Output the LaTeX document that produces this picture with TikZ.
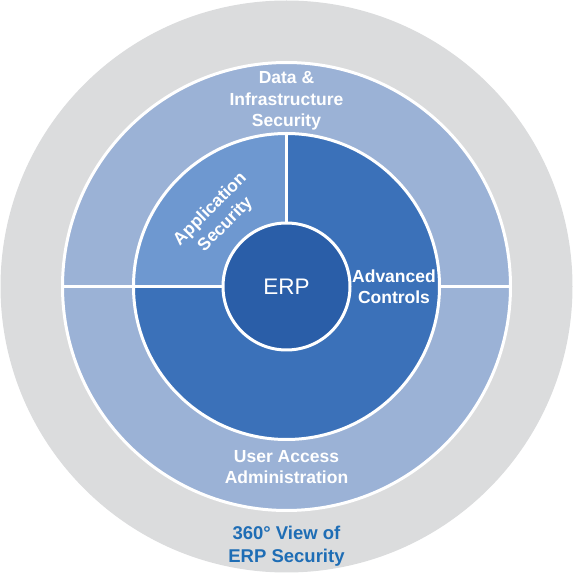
\documentclass[tikz,border=0pt]{standalone}
\usepackage{fontspec}
\setmainfont{Liberation Sans}
\definecolor{grayring}{HTML}{DBDCDD}
\definecolor{outerblue}{HTML}{9BB2D6}
\definecolor{appblue}{HTML}{6E98D0}
\definecolor{darkblue}{HTML}{3B71B9}
\definecolor{erpblue}{HTML}{2A5EA8}
\definecolor{textblue}{HTML}{1E6DB5}
\begin{document}
\begin{tikzpicture}[x=1pt,y=1pt,
  sep/.style={white,line width=3pt},
  lbl/.style={text=white,font=\fontsize{17.5}{21.5}\selectfont\bfseries,align=center,inner sep=0pt},
  bluelbl/.style={text=textblue,font=\fontsize{18.5}{23.3}\selectfont\bfseries,align=center,inner sep=0pt}]
\useasboundingbox (0,0) rectangle (574,574);
\coordinate (c) at (286.5,287.5);
% gray background disc
\fill[grayring] (c) circle (286);
% outer ring
\fill[outerblue] (c) circle (224);
\draw[sep] (c) circle (224);
% middle ring
\fill[darkblue] (c) circle (153);
\fill[appblue] (c) -- ++(-153,0) arc (180:90:153) -- cycle;
\draw[sep] (c) circle (153);
% dividers
\draw[sep] (c) -- ++(-224,0);
\draw[sep] (c) ++(153,0) -- ++(71,0);
\draw[sep] (c) -- ++(0,153);
% centre
\node[circle,fill=erpblue,draw=white,line width=3pt,minimum size=127pt,inner sep=0pt,
  text=white,font=\fontsize{22.5}{27}\selectfont] (erp) at (c) {ERP};
% labels
\node[lbl] (data) at (286.5,473) {Data \&\\Infrastructure\\Security};
\node[lbl,rotate=45] (app) at (218,357) {Application\\Security};
\node[lbl] (adv) at (394,287.5) {Advanced\\Controls};
\node[lbl] (uaa) at (286.5,106.8) {User Access\\Administration};
\node[bluelbl] (view) at (286.5,28) {360° View of\\ERP Security};
\end{tikzpicture}
\end{document}
